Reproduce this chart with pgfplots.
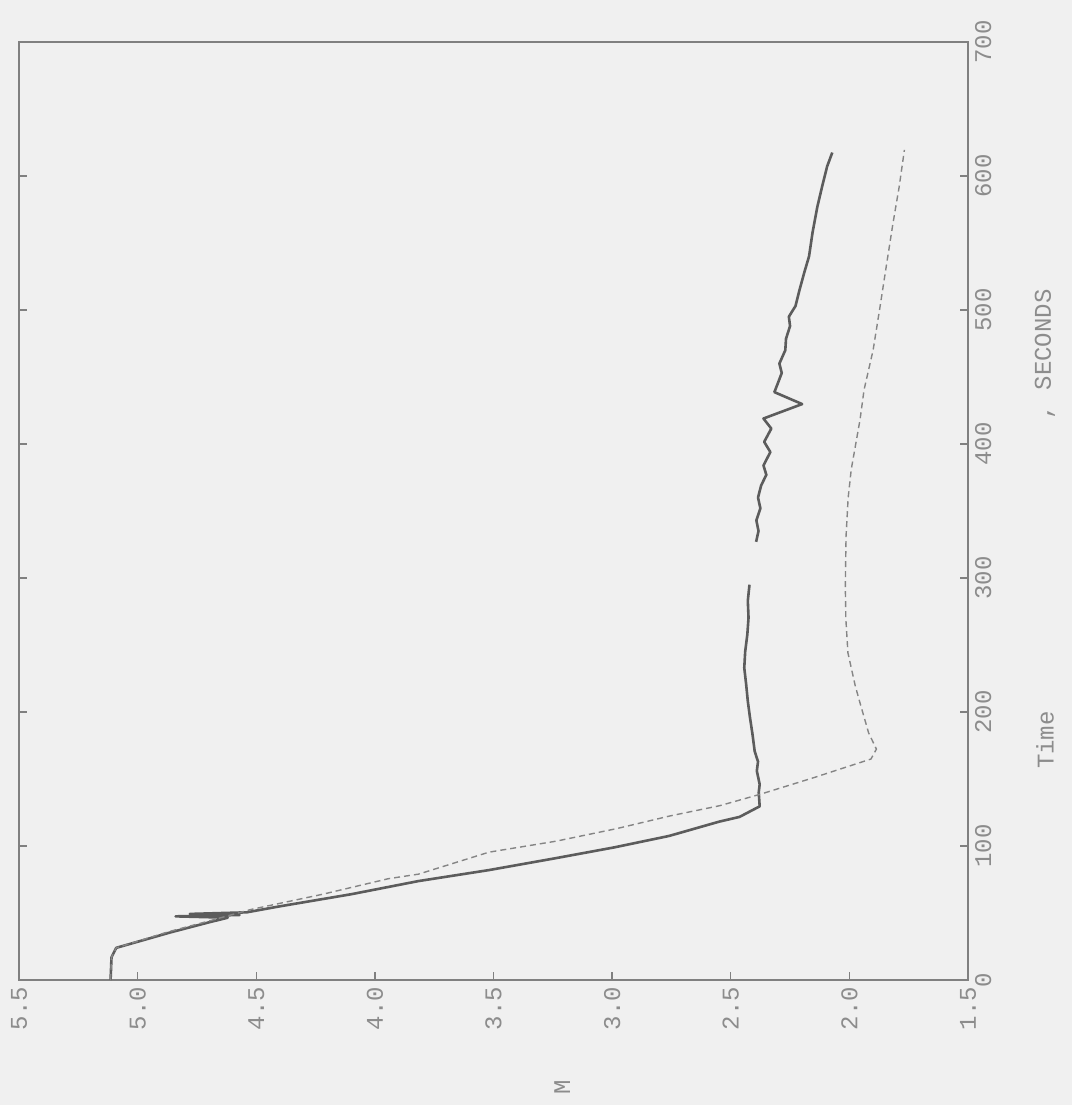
\documentclass[border=0pt]{standalone}
\usepackage{fontspec}
\setmainfont{Liberation Mono}
\usepackage{pgfplots}
\pgfplotsset{compat=1.18}
\definecolor{bg}{gray}{0.94}
\definecolor{axc}{gray}{0.50}
\definecolor{txt}{gray}{0.55}
\definecolor{sol}{gray}{0.36}
\definecolor{dsh}{gray}{0.52}
\begin{document}
\begin{tikzpicture}
\fill[bg] (0,0) rectangle (536pt,552.5pt);
\path[use as bounding box] (0,0) rectangle (536pt,552.5pt);
\begin{axis}[
  at={(9.5pt,62.5pt)}, anchor=south west,
  width=474.5pt, height=469pt, scale only axis,
  x dir=reverse, xmin=1.5, xmax=5.5, ymin=0, ymax=700,
  xtick={1.5,2,2.5,3,3.5,4,4.5,5,5.5},
  xticklabels={1.5,2.0,2.5,3.0,3.5,4.0,4.5,5.0,5.5},
  ytick={0,100,200,300,400,500,600,700},
  yticklabels={0,100,200,300,400,500,600,700},
  xtick pos=bottom, ytick pos=both, yticklabel pos=right,
  tick align=inside, major tick length=4pt,
  axis line style={axc, line width=0.7pt},
  tick style={axc, line width=0.7pt},
  xticklabel style={rotate=90, anchor=east},
  yticklabel style={rotate=90, anchor=north},
  ticklabel style={font=\fontsize{12}{14}\selectfont, text=txt},
  clip=false,
]
\addplot[sol, line width=1.3pt, line join=round] coordinates {
(5.114,0) (5.110,17) (5.09,24) (4.86,35.6) (4.70,43) (4.62,46.5) (4.84,47.5)
(4.57,48.5) (4.78,49.3) (4.54,50.5) (4.40,55) (4.10,64) (3.817,73.8) (3.52,82)
(3.238,90.9) (2.99,99) (2.760,107.5) (2.548,118.2) (2.463,121.7) (2.378,129.6)
(2.382,140) (2.378,146) (2.390,156) (2.385,163) (2.399,170.6) (2.408,183)
(2.419,196) (2.428,208) (2.435,220.6) (2.443,233) (2.439,245.2) (2.430,258)
(2.425,270.5) (2.428,283) (2.421,295)
};
\addplot[sol, line width=1.3pt, line join=round] coordinates {
(2.393,327) (2.383,335) (2.392,343) (2.375,352) (2.385,360) (2.372,369)
(2.350,377) (2.362,384) (2.333,394) (2.359,401.6) (2.329,411.5) (2.362,419)
(2.199,429.8) (2.316,438.7) (2.300,446) (2.285,453) (2.295,460) (2.270,470)
(2.267,478.6) (2.250,488) (2.255,495) (2.227,503) (2.210,515) (2.190,528)
(2.170,540) (2.155,558) (2.135,577) (2.115,592) (2.094,607) (2.072,617.5)
};
\addplot[dsh, line width=0.7pt, dash pattern=on 3pt off 2pt] coordinates {
(5.114,0) (5.110,17) (5.09,24) (4.87,36) (4.70,44) (4.523,52.6) (4.22,64)
(3.943,75.6) (3.816,79) (3.519,95.4) (3.236,103.6) (2.98,113) (2.757,122.4)
(2.546,130.1) (2.376,138.6) (2.15,151) (1.909,164.9) (1.886,172.3)
(1.919,184.5) (1.955,206.7) (1.975,219.4) (2.006,244.1) (2.015,270)
(2.017,294) (2.014,331.2) (2.005,360) (1.992,381.1) (1.955,418.2)
(1.938,440.5) (1.900,470) (1.871,502.1) (1.845,532) (1.817,563.8)
(1.790,592) (1.768,619.5)
};
\node[rotate=90, text=txt, font=\fontsize{12}{14}\selectfont]
  at ([yshift=-53.5pt]axis cs:3.21,0) {M};
\node[rotate=90, text=txt, font=\fontsize{12}{14}\selectfont]
  at ([xshift=38.5pt]axis cs:1.5,179) {Time};
\node[rotate=90, text=txt, font=\fontsize{12}{14}\selectfont]
  at ([xshift=38.5pt]axis cs:1.5,467) {, SECONDS};
\end{axis}
\end{tikzpicture}
\end{document}
